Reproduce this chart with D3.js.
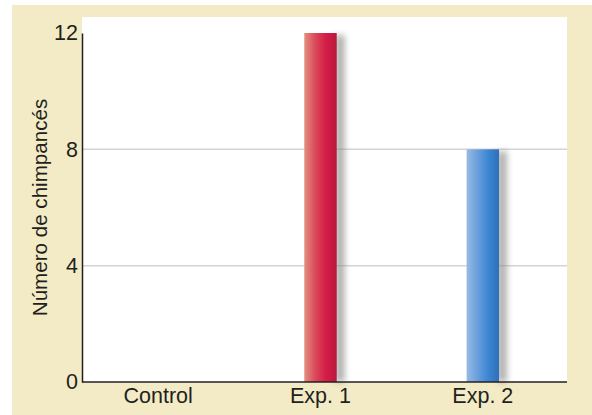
<!DOCTYPE html>
<html>
<head>
<meta charset="utf-8">
<script src="https://cdn.jsdelivr.net/npm/d3@7"></script>
<style>
  html, body { margin: 0; padding: 0; background: #ffffff; }
  svg { display: block; }
  text { font-family: "Liberation Sans", Arial, Helvetica, sans-serif; fill: #231f20; }
</style>
</head>
<body>
<script>
// Chimpanzee counts per group
const categories = ["Control", "Exp. 1", "Exp. 2"];
const counts = [0, 12, 8];
const yTicks = [0, 4, 8, 12];
const yTitle = "Número de chimpancés";

const W = 592, H = 415;
const svg = d3.select("body").append("svg").attr("width", W).attr("height", H);
const defs = svg.append("defs");

// gradients for the two colored bars
const grads = [
  { id: "g0", stops: ["#f0f0f0", "#f0f0f0", "#f0f0f0"] },
  { id: "g1", stops: ["#e2907f", "#da4a5a", "#d41c48", "#b81a3c"] },
  { id: "g2", stops: ["#98bae6", "#6a9fdc", "#3b86d3", "#2f6fb6"] }
];
grads.forEach(g => {
  const lg = defs.append("linearGradient").attr("id", g.id)
    .attr("x1", "0%").attr("x2", "100%").attr("y1", "0%").attr("y2", "0%");
  g.stops.forEach((c, i) => lg.append("stop")
    .attr("offset", (i / (g.stops.length - 1) * 100) + "%").attr("stop-color", c));
});
defs.append("filter").attr("id", "blur").attr("x", "-50%").attr("width", "200%")
  .append("feGaussianBlur").attr("stdDeviation", 3);
defs.append("filter").attr("id", "blurSoft").attr("y", "-200%").attr("height", "500%")
  .append("feGaussianBlur").attr("stdDeviation", 1);

// background panels
svg.append("rect").attr("x", 12).attr("y", 5).attr("width", W - 12).attr("height", H - 5)
  .attr("fill", "#f2ebc5");

const plot = { left: 82, right: 567, top: 17, bottom: 382 };
svg.append("rect").attr("x", plot.left).attr("y", plot.top)
  .attr("width", plot.right - plot.left).attr("height", plot.bottom - plot.top)
  .attr("fill", "#ffffff");

const x = d3.scaleBand().domain(categories).range([77, 564])
  .paddingInner(0.8).paddingOuter(0.4);
const y = d3.scaleLinear().domain([0, 12]).range([plot.bottom, 33]);

// gridlines
const grid = svg.append("g");
yTicks.filter(t => t > 0 && t < 12).forEach(t => {
  grid.append("line").attr("x1", plot.left).attr("x2", plot.right)
    .attr("y1", y(t) + 1.5).attr("y2", y(t) + 1.5)
    .attr("stroke", "#e6e6e6").attr("stroke-width", 3).attr("filter", "url(#blurSoft)");
  grid.append("line").attr("x1", plot.left).attr("x2", plot.right)
    .attr("y1", y(t)).attr("y2", y(t))
    .attr("stroke", "#d4d4d4").attr("stroke-width", 1.5);
});

// bar shadows
const bars = categories.map((c, i) => ({ c, v: counts[i], i })).filter(d => d.v > 0);
svg.append("g").selectAll("rect").data(bars).join("rect")
  .attr("x", d => x(d.c) + x.bandwidth() - 2)
  .attr("y", d => y(d.v) + 2)
  .attr("width", 10)
  .attr("height", d => y(0) - y(d.v) - 2)
  .attr("fill", "#808080").attr("opacity", 0.6).attr("filter", "url(#blur)");

// bars
svg.append("g").selectAll("rect").data(bars).join("rect")
  .attr("x", d => x(d.c))
  .attr("y", d => y(d.v))
  .attr("width", x.bandwidth())
  .attr("height", d => y(0) - y(d.v))
  .attr("fill", d => `url(#g${d.i})`);

// axes
const yAxis = svg.append("g").attr("transform", `translate(${plot.left},0)`)
  .call(d3.axisLeft(y).tickValues(yTicks).tickSize(0).tickPadding(4));
yAxis.select(".domain").attr("stroke", "#231f20").attr("stroke-width", 1.5);
yAxis.selectAll("text").attr("font-size", 21.5).style("fill", "#231f20")
  .attr("font-family", "Liberation Sans, Arial, sans-serif");

const xAxis = svg.append("g").attr("transform", `translate(0,${plot.bottom})`)
  .call(d3.axisBottom(x).tickSize(0).tickPadding(6));
xAxis.select(".domain").attr("d", `M${plot.left},0H${plot.right}`)
  .attr("stroke", "#231f20").attr("stroke-width", 1.5);
xAxis.selectAll("text").attr("font-size", 21.5).style("fill", "#231f20")
  .attr("font-family", "Liberation Sans, Arial, sans-serif");

// y-axis title
svg.append("text")
  .attr("transform", `translate(47,${(100 + 315) / 2}) rotate(-90)`)
  .attr("text-anchor", "middle")
  .attr("font-size", 20.6)
  .text(yTitle);
</script>
</body>
</html>
